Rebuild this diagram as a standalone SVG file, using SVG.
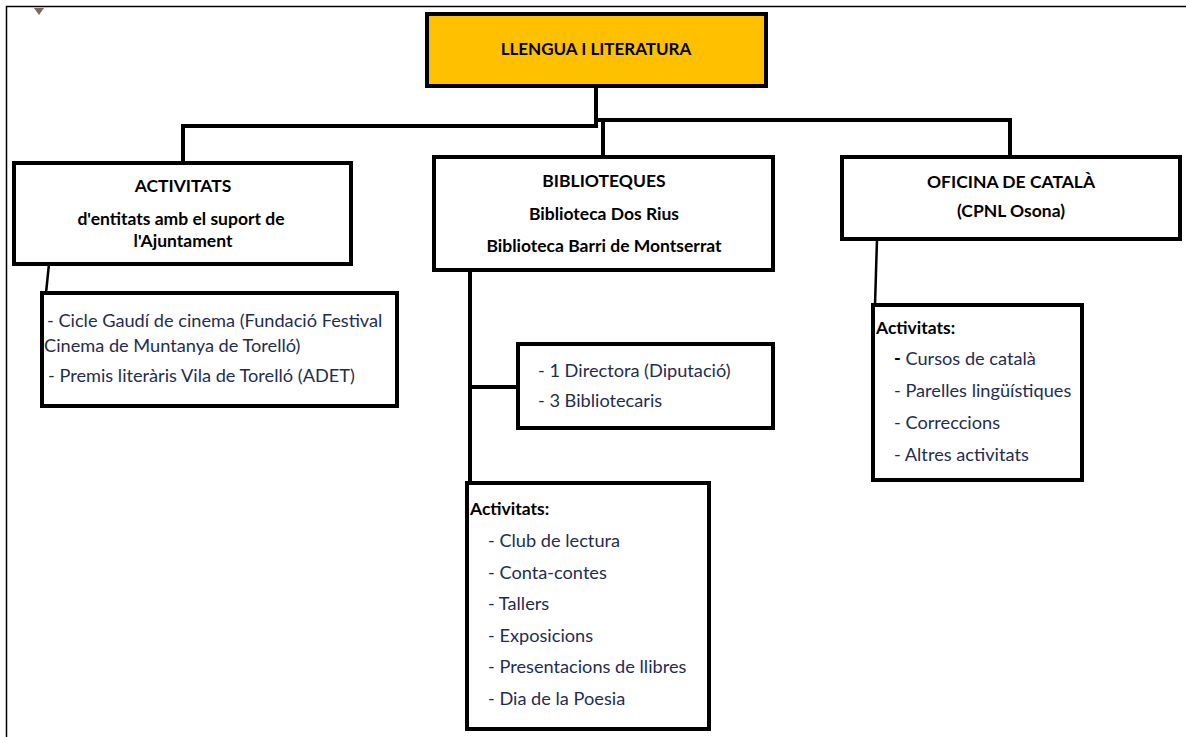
<svg xmlns="http://www.w3.org/2000/svg" width="1186" height="737" viewBox="0 0 1186 737">
<style>
.box{fill:#fff;stroke:#000;stroke-width:4}
.top{fill:#FFC000;stroke:#000;stroke-width:4}
.h{font-family:Lato,"Liberation Sans",sans-serif;font-weight:bold;font-size:17.5px;fill:#000;text-anchor:middle}
.b{font-family:Lato,"Liberation Sans",sans-serif;font-weight:bold;font-size:17.5px;fill:#000}
.t{font-family:Lato,"Liberation Sans",sans-serif;font-size:18.2px;fill:#1f2d50}
.c{fill:none;stroke:#000;stroke-width:4}
.cs{fill:none;stroke:#000;stroke-width:2.5}
</style>
<rect width="1186" height="737" fill="#fff"/>
<path d="M6.5 737V6.5H1186" fill="none" stroke="#000" stroke-width="1.5"/>
<polygon points="34,8 44,8 39,15" fill="#7a6a60"/>
<g id="connectors">
<path class="c" d="M596 86V126H183V163"/>
<path class="c" d="M596 120H1010V157"/>
<path class="c" d="M603 120V157"/>
<path class="cs" d="M49 264L46 293"/>
<path class="c" d="M470 270V483"/>
<path class="c" d="M470 387H518"/>
<path class="cs" d="M877 239L875 305"/>
</g>
<g id="n-llengua">
<rect class="top" x="427" y="14" width="339" height="72"/>
<text class="h" x="596" y="55" style="font-size:17px">LLENGUA I LITERATURA</text>
</g>
<g id="n-activitats">
<rect class="box" x="14" y="163" width="337" height="101"/>
<text class="h" x="183" y="192">ACTIVITATS</text>
<text class="h" x="181" y="225">d'entitats amb el suport de</text>
<text class="h" x="183" y="247">l'Ajuntament</text>
</g>
<g id="n-cicle">
<rect class="box" x="42" y="293" width="355" height="113"/>
<text class="t" x="47" y="327"> - Cicle Gaudí de cinema (Fundació Festival</text>
<text class="t" x="44" y="352">Cinema de Muntanya de Torelló)</text>
<text class="t" x="48" y="382"> - Premis literàris Vila de Torelló (ADET)</text>
</g>
<g id="n-biblioteques">
<rect class="box" x="434" y="157" width="339" height="113"/>
<text class="h" x="604" y="187">BIBLIOTEQUES</text>
<text class="h" x="604" y="220">Biblioteca Dos Rius</text>
<text class="h" x="604" y="252">Biblioteca Barri de Montserrat</text>
</g>
<g id="n-personal">
<rect class="box" x="518" y="344" width="255" height="84"/>
<text class="t" x="538" y="377">- 1 Directora (Diputació)</text>
<text class="t" x="538" y="407">- 3 Bibliotecaris</text>
</g>
<g id="n-activitats-bib">
<rect class="box" x="467" y="483" width="242" height="246"/>
<text class="b" x="470" y="515">Activitats:</text>
<text class="t" x="488" y="547">- Club de lectura</text>
<text class="t" x="488" y="579">- Conta-contes</text>
<text class="t" x="488" y="610">- Tallers</text>
<text class="t" x="488" y="642">- Exposicions</text>
<text class="t" x="488" y="673">- Presentacions de llibres</text>
<text class="t" x="488" y="705">- Dia de la Poesia</text>
</g>
<g id="n-oficina">
<rect class="box" x="842" y="157" width="338" height="82"/>
<text class="h" x="1011" y="188">OFICINA DE CATALÀ</text>
<text class="h" x="1011" y="217">(CPNL Osona)</text>
</g>
<g id="n-activitats-of">
<rect class="box" x="873" y="305" width="209" height="175"/>
<text class="b" x="876" y="334">Activitats:</text>
<text class="t" x="894" y="365"><tspan fill="#000" font-weight="bold">-</tspan> Cursos de català</text>
<text class="t" x="894" y="397">- Parelles lingüístiques</text>
<text class="t" x="894" y="429">- Correccions</text>
<text class="t" x="894" y="461">- Altres activitats</text>
</g>
</svg>
